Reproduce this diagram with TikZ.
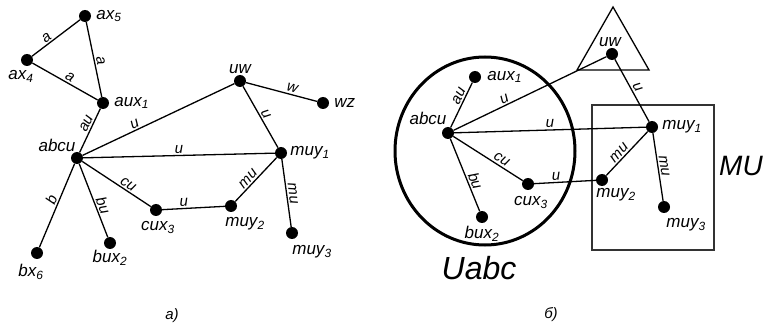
\documentclass[tikz,border=0pt]{standalone}
\usepackage{fontspec}
\setmainfont{Liberation Sans}

\tikzset{
  vtx/.style={circle, fill=black, inner sep=0pt, minimum size=12pt},
  edge/.style={line width=1.3pt},
  elab/.style={sloped, above, inner sep=1.5pt, font=\itshape\fontsize{15}{15}\selectfont},
  vlab/.style={inner sep=1pt, font=\itshape\fontsize{17}{17}\selectfont},
  big/.style={font=\itshape\fontsize{32}{32}\selectfont},
  capt/.style={font=\itshape\fontsize{15}{15}\selectfont},
}
\newcommand{\vn}[2]{#1\textsubscript{#2}}

\begin{document}
\begin{tikzpicture}[x=1pt, y=-1pt, every label/.style={vlab}]
  \useasboundingbox (0,0) rectangle (764,326);

  %% graph a)
  \node[vtx, label={[label distance=4pt]0:\vn{ax}{5}}]   (ax5)  at (85,16)   {};
  \node[vtx, label={[label distance=3pt, xshift=-6pt]-90:\vn{ax}{4}}] (ax4) at (27,60) {};
  \node[vtx, label={[label distance=4pt]0:\vn{aux}{1}}]  (aux1) at (103,103) {};
  \node[vtx, label={[xshift=5pt, yshift=2pt]150:abcu}]  (abcu) at (77,158)  {};
  \node[vtx, label={90:uw}]                             (uw)   at (240,81)  {};
  \node[vtx, label={[label distance=4pt]0:wz}]          (wz)   at (323,103) {};
  \node[vtx, label={[label distance=2pt]0:\vn{muy}{1}}] (muy1) at (281,153) {};
  \node[vtx, label={[label distance=4pt, xshift=14pt]-90:\vn{muy}{2}}] (muy2) at (231,206) {};
  \node[vtx, label={[label distance=5pt, xshift=20pt]-90:\vn{muy}{3}}] (muy3) at (292,233) {};
  \node[vtx, label={[label distance=4pt, xshift=2pt]-90:\vn{cux}{3}}]  (cux3) at (156,210) {};
  \node[vtx, label={[label distance=0pt]-90:\vn{bux}{2}}]              (bux2) at (110,243) {};
  \node[vtx, label={[label distance=4pt, xshift=-6pt]-90:\vn{bx}{6}}]  (bx6)  at (37,253)  {};

  \draw[edge] (ax4) -- node[elab, pos=.38] {a} (ax5);
  \draw[edge] (ax5) -- node[elab, pos=.53] {a} (aux1);
  \draw[edge] (ax4) -- node[elab, pos=.53] {a} (aux1);
  \draw[edge] (abcu) -- node[elab, pos=.6] {au} (aux1);
  \draw[edge] (abcu) -- node[elab, pos=.36] {u} (uw);
  \draw[edge] (abcu) -- node[elab, pos=.5] {u} (muy1);
  \draw[edge] (abcu) -- node[elab, pos=.62] {cu} (cux3);
  \draw[edge] (abcu) -- node[elab, pos=.6] {bu} (bux2);
  \draw[edge] (bx6) -- node[elab, pos=.54] {b} (abcu);
  \draw[edge] (cux3) -- node[elab, pos=.35] {u} (muy2);
  \draw[edge] (muy2) -- node[elab, pos=.42] {mu} (muy1);
  \draw[edge] (muy1) -- node[elab, pos=.52] {mu} (muy3);
  \draw[edge] (uw) -- node[elab, pos=.5] {u} (muy1);
  \draw[edge] (uw) -- node[elab, pos=.63] {w} (wz);

  \node[capt] (capa) at (172,316) {а)};

  %% graph b)
  \draw[line width=3pt] (485,151) ellipse [x radius=90, y radius=94];
  \draw[line width=1.3pt, black!80] (592,105) rectangle (714,250);
  \draw[line width=1.3pt] (613,7) -- (649,70) -- (577,70) -- cycle;

  \node[vtx, label={[label distance=5pt]0:\vn{aux}{1}}]  (b-aux1) at (475,77)  {};
  \node[vtx, label={[xshift=5pt, yshift=4pt]150:abcu}]  (b-abcu) at (448,133) {};
  \node[vtx, label={[xshift=-2pt]90:uw}]                (b-uw)   at (612,54)  {};
  \node[vtx, label={[label distance=3pt]0:\vn{muy}{1}}] (b-muy1) at (652,127) {};
  \node[vtx, label={[label distance=1pt, xshift=14pt]-90:\vn{muy}{2}}] (b-muy2) at (602,180) {};
  \node[vtx, label={[label distance=4pt, xshift=22pt]-90:\vn{muy}{3}}] (b-muy3) at (664,207) {};
  \node[vtx, label={[label distance=5pt, xshift=3pt]-90:\vn{cux}{3}}]  (b-cux3) at (528,184) {};
  \node[vtx, label={[label distance=2pt]-90:\vn{bux}{2}}]              (b-bux2) at (482,217) {};

  \draw[edge] (b-abcu) -- node[elab, pos=.64] {au} (b-aux1);
  \draw[edge] (b-abcu) -- node[elab, pos=.35] {u} (b-uw);
  \draw[edge] (b-abcu) -- node[elab, pos=.5] {u} (b-muy1);
  \draw[edge] (b-abcu) -- node[elab, pos=.65] {cu} (b-cux3);
  \draw[edge] (b-abcu) -- node[elab, pos=.62] {bu} (b-bux2);
  \draw[edge] (b-cux3) -- node[elab, pos=.36] {u} (b-muy2);
  \draw[edge] (b-muy2) -- node[elab, pos=.42] {mu} (b-muy1);
  \draw[edge] (b-muy1) -- node[elab, pos=.5] {mu} (b-muy3);
  \draw[edge] (b-uw) -- node[elab, pos=.5] {u} (b-muy1);

  \node[big] (uabc) at (479,268) {Uabc};
  \node[big, font=\itshape\fontsize{28}{28}\selectfont] (mu) at (741,166) {MU};
  \node[capt] (capb) at (551,315) {б)};
\end{tikzpicture}
\end{document}
